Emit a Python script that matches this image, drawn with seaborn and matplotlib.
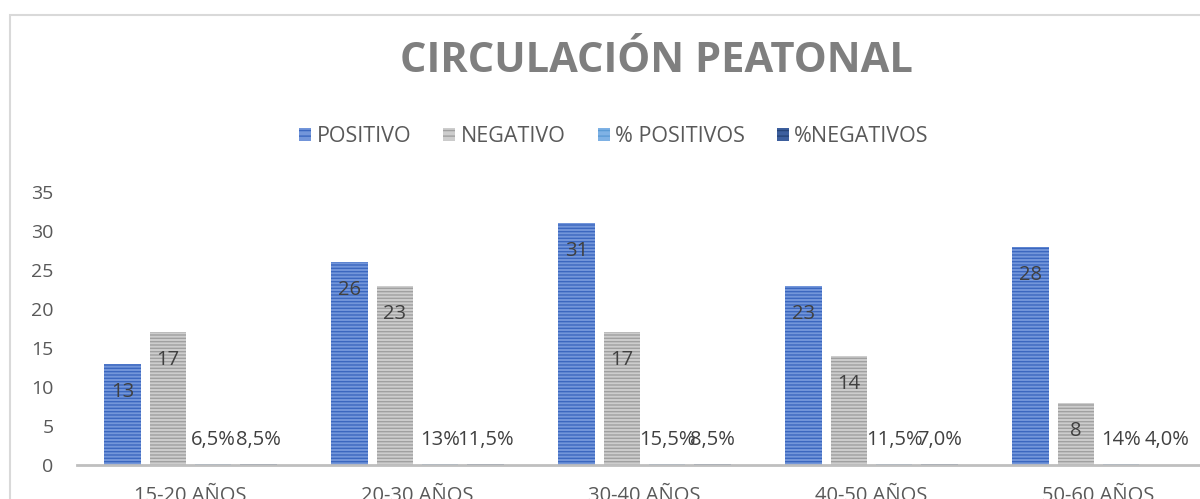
import numpy as np
import pandas as pd
import matplotlib
matplotlib.use("Agg")
import matplotlib.pyplot as plt
import seaborn as sns
from matplotlib.patches import Rectangle

categorias = ["15-20 AÑOS", "20-30 AÑOS", "30-40 AÑOS", "40-50 AÑOS", "50-60 AÑOS"]
series = ["POSITIVO", "NEGATIVO", "% POSITIVOS", "%NEGATIVOS"]
positivo = [13, 26, 31, 23, 28]
negativo = [17, 23, 17, 14, 8]
pct_positivos = [0.065, 0.13, 0.155, 0.115, 0.14]
pct_negativos = [0.085, 0.115, 0.085, 0.07, 0.04]
etiq_pct_pos = ["6,5%", "13%", "15,5%", "11,5%", "14%"]
etiq_pct_neg = ["8,5%", "11,5%", "8,5%", "7,0%", "4,0%"]

caras = ["#7396da", "#cdcdcd", "#7fb2e5", "#3d5f9e"]
rayas = ["#3b67bf", "#a0a0a0", "#5b9bd5", "#264478"]

valores = [positivo, negativo, pct_positivos, pct_negativos]
etiquetas = [[str(v) for v in positivo], [str(v) for v in negativo], etiq_pct_pos, etiq_pct_neg]

df = pd.DataFrame({
    "grupo": categorias * 4,
    "serie": [s for s in series for _ in categorias],
    "valor": positivo + negativo + pct_positivos + pct_negativos,
})

sns.set_theme(style="white")
plt.rcParams["font.family"] = ["Open Sans", "DejaVu Sans"]
plt.rcParams["hatch.linewidth"] = 1.0

fig = plt.figure(figsize=(12, 4.99), dpi=100)
ax = fig.add_axes([77 / 1200, 34 / 499, 1135 / 1200, 273 / 499])

sns.barplot(data=df, x="grupo", y="valor", hue="serie", hue_order=series,
            palette=caras, width=0.8, gap=0.2, ax=ax, legend=False)

for i, cont in enumerate(ax.containers):
    for bar in cont:
        bar.set_facecolor(caras[i])
        bar.set_edgecolor(rayas[i])
        bar.set_linewidth(0)
        bar.set_hatch("-----")
    for bar, txt in zip(cont, etiquetas[i]):
        h = bar.get_height()
        y = max(h - 3.6, 3.2)
        ax.text(bar.get_x() + bar.get_width() / 2, y, txt, ha="center", va="center",
                fontsize=14.5, color="#404040")

ax.set_xlim(-0.5, 4.5)
ax.set_ylim(0, 35)
ax.set_yticks(range(0, 36, 5))
ax.set_xlabel("")
ax.set_ylabel("")
for s in ["top", "right", "left"]:
    ax.spines[s].set_visible(False)
ax.spines["bottom"].set_color("#bfbfbf")
ax.spines["bottom"].set_linewidth(2)
ax.tick_params(axis="y", length=0, pad=17, labelsize=14, labelcolor="#595959")
ax.tick_params(axis="x", length=0, pad=15, labelsize=14.5, labelcolor="#595959")

fig.text(656 / 1200, 1 - 62 / 499, "CIRCULACIÓN PEATONAL", ha="center", va="center",
         fontsize=30, fontweight="bold", color="#7f7f7f")

handles = [Rectangle((0, 0), 1, 1, facecolor=caras[i], edgecolor=rayas[i], lw=0, hatch="---")
           for i in range(4)]
fig.legend(handles, series, loc="center", bbox_to_anchor=(614 / 1200, 1 - 137 / 499),
           ncol=4, frameon=False, fontsize=15.5, handlelength=0.55, handleheight=0.55,
           handletextpad=0.25, columnspacing=1.5, labelcolor="#595959")

fig.patches.append(Rectangle((10 / 1200, -0.1), 1.2, 1.1 - 15 / 499, transform=fig.transFigure,
                             fill=False, edgecolor="#d9d9d9", lw=1.5))

fig.savefig("out.png", dpi=100)
